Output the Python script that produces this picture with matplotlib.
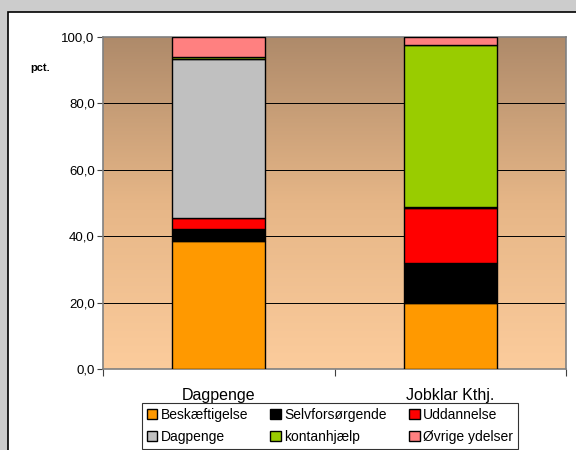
import numpy as np
import matplotlib
matplotlib.use("Agg")
import matplotlib.pyplot as plt
from matplotlib.patches import Rectangle
from matplotlib.colors import LinearSegmentedColormap

plt.rcParams['font.family'] = ['Liberation Sans', 'DejaVu Sans']

categories = ["Dagpenge", "Jobklar Kthj."]
series_names = ["Beskæftigelse", "Selvforsørgende", "Uddannelse", "Dagpenge", "kontanhjælp", "Øvrige ydelser"]
values = {
    "Beskæftigelse":   [38.5, 19.8],
    "Selvforsørgende": [3.6, 12.0],
    "Uddannelse":      [3.2, 16.6],
    "Dagpenge":        [48.0, 0.5],
    "kontanhjælp":     [0.5, 48.7],
    "Øvrige ydelser":  [6.2, 2.4],
}
colors = ["#FF9900", "#000000", "#FF0000", "#C0C0C0", "#99CC00", "#FF8080"]
yticks = [0, 20, 40, 60, 80, 100]
ytick_labels = ["0,0", "20,0", "40,0", "60,0", "80,0", "100,0"]

W, H = 576, 450
fig = plt.figure(figsize=(W / 100, H / 100), dpi=100, facecolor="#CCCCCC")
# white chart area
fig.patches.append(Rectangle((8 / W, -0.1), 1.2, 1 - 12 / H + 0.1, transform=fig.transFigure,
                             facecolor="white", edgecolor="black", linewidth=1.2, zorder=-10))

ax = fig.add_axes([103 / W, 1 - 369 / H, (566 - 103) / W, (369 - 36.7) / H])
ax.set_xlim(-0.5, 1.5)
ax.set_ylim(0, 100)

# gradient background
cmap = LinearSegmentedColormap.from_list("bg", ["#FCCC9C", "#E6B687", "#AE8A6A"])
grad = np.linspace(0, 1, 256).reshape(-1, 1)
ax.imshow(grad, aspect="auto", cmap=cmap, origin="lower", extent=[-0.5, 1.5, 0, 100], zorder=0)

for y in yticks[1:-1]:
    ax.axhline(y, color="black", linewidth=0.7, zorder=1)

x = np.arange(len(categories))
bottom = np.zeros(len(categories))
handles = []
for name, c in zip(series_names, colors):
    v = np.array(values[name])
    b = ax.bar(x, v, width=0.40, bottom=bottom, color=c, edgecolor="black", linewidth=1.0,
               label=name, zorder=3)
    handles.append(b)
    bottom += v

ax.set_yticks(yticks)
ax.set_yticklabels(ytick_labels, fontsize=9.5)
ax.set_xticks([-0.5, 0.5, 1.5])
ax.set_xticklabels([])
ax.set_xticks(x, minor=True)
ax.set_xticklabels(categories, minor=True, fontsize=11.5)
ax.tick_params(axis="x", which="minor", length=0, pad=14)
ax.tick_params(axis="x", which="major", length=5, color="#404040")
ax.tick_params(axis="y", length=4, color="#404040", pad=2)
for s in ax.spines.values():
    s.set_color("#808080")
    s.set_linewidth(1.2)

fig.text(40 / W, 1 - 68 / H, "pct.", fontsize=8, fontweight="bold", ha="center", va="center")

order = [0, 3, 1, 4, 2, 5]
leg = fig.legend([handles[i] for i in order], [series_names[i] for i in order], ncol=3,
                 loc="upper left", bbox_to_anchor=(142 / W, 1 - 403 / H), fontsize=10,
                 frameon=True, fancybox=False, edgecolor="black", handlelength=0.75,
                 handleheight=0.75, handletextpad=0.25, columnspacing=1.6, labelspacing=0.6,
                 borderpad=0.35, borderaxespad=0)
leg.get_frame().set_linewidth(0.8)

fig.savefig("out.png", dpi=100, facecolor=fig.get_facecolor())
